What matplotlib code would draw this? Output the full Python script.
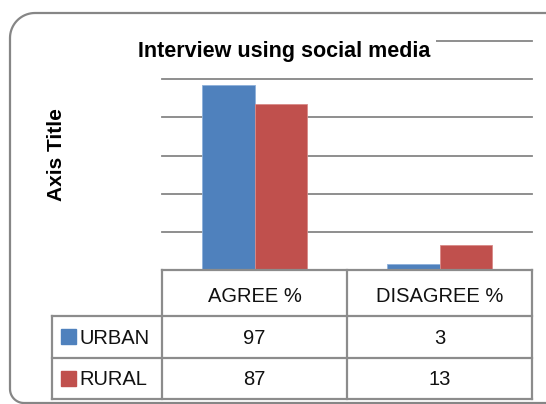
import numpy as np
import matplotlib.pyplot as plt
from matplotlib.patches import Rectangle
from matplotlib.lines import Line2D

categories = ['AGREE %', 'DISAGREE %']
series = ['URBAN', 'RURAL']
urban = [97, 3]
rural = [87, 13]
colors = ['#4F81BD', '#C0504D']

font = ['Liberation Sans', 'DejaVu Sans']

W, H = 546, 404
fig = plt.figure(figsize=(W / 100, H / 100), dpi=100)


def fx(x):
    return x / W


def fy(y):
    return 1 - y / H


# chart border, rounded on the left, running off the right edge
r1, r2 = 25, 14
a = np.linspace(np.pi / 2, np.pi, 20)
top_corner = [(10 + r1 + r1 * np.cos(t), 13 + r1 - r1 * np.sin(t)) for t in a]
b = np.linspace(np.pi, 1.5 * np.pi, 20)
bot_corner = [(10 + r2 + r2 * np.cos(t), 403 - r2 - r2 * np.sin(t)) for t in b]
pts = [(560, 13)] + top_corner + bot_corner + [(560, 403)]
fig.add_artist(Line2D([fx(p[0]) for p in pts], [fy(p[1]) for p in pts],
                      transform=fig.transFigure, color='#868686', linewidth=1.6))

ax = fig.add_axes([fx(162), fy(270), fx(532) - fx(162), fy(41) - fy(270)])
x = np.arange(len(categories))
bw = 0.284
ax.bar(x - bw / 2, urban, bw, color=colors[0], edgecolor='#8EB0DA', linewidth=0.6)
ax.bar(x + bw / 2, rural, bw, color=colors[1], edgecolor='#D88A88', linewidth=0.6)
ax.set_xlim(-0.5, 1.5)
ax.set_ylim(0, 120)
ax.set_yticks(np.arange(20, 121, 20))
ax.yaxis.grid(True, color='#868686', linewidth=1.3)
for gl in ax.get_ygridlines():
    gl.set_clip_on(False)
ax.set_axisbelow(True)
ax.tick_params(left=False, bottom=False, labelleft=False, labelbottom=False)
for s in ax.spines.values():
    s.set_visible(False)

fig.text(fx(284), fy(52), 'Interview using social media', ha='center', va='center',
         fontsize=15.5, fontweight='bold', family=font, zorder=5,
         bbox=dict(facecolor='white', edgecolor='none', pad=4))
fig.text(fx(57), fy(155), 'Axis Title', ha='center', va='center', rotation=90,
         fontsize=15, fontweight='bold', family=font)

# data table
col_x = [162, 347, 532]
row_y = [270, 316, 358, 399]
lc = '#8C8C8C'
lw = 1.6


def hline(x0, x1, y):
    fig.add_artist(Line2D([fx(x0), fx(x1)], [fy(y), fy(y)], transform=fig.transFigure,
                          color=lc, linewidth=lw))


def vline(x, y0, y1):
    fig.add_artist(Line2D([fx(x), fx(x)], [fy(y0), fy(y1)], transform=fig.transFigure,
                          color=lc, linewidth=lw))


hline(col_x[0], col_x[-1], row_y[0])
for y in row_y[1:]:
    hline(52, col_x[-1], y)
for cx in col_x:
    vline(cx, row_y[0], row_y[-1])
vline(52, row_y[1], row_y[-1])

tfont = dict(fontsize=14.5, family=font, color='#111111')
for j, c in enumerate(categories):
    fig.text(fx((col_x[j] + col_x[j + 1]) / 2), fy((row_y[0] + row_y[1]) / 2 + 3), c,
             ha='center', va='center', **tfont)
for i, (name, vals) in enumerate(zip(series, [urban, rural])):
    yc = (row_y[i + 1] + row_y[i + 2]) / 2
    fig.patches.append(Rectangle((fx(61), fy(yc + 7)), fx(15), fy(0) - fy(15),
                                 transform=fig.transFigure, color=colors[i]))
    fig.text(fx(79), fy(yc + 1), name, ha='left', va='center', **tfont)
    for j, v in enumerate(vals):
        fig.text(fx((col_x[j] + col_x[j + 1]) / 2), fy(yc + 1), str(v),
                 ha='center', va='center', **tfont)

fig.savefig('out.png', dpi=100)
